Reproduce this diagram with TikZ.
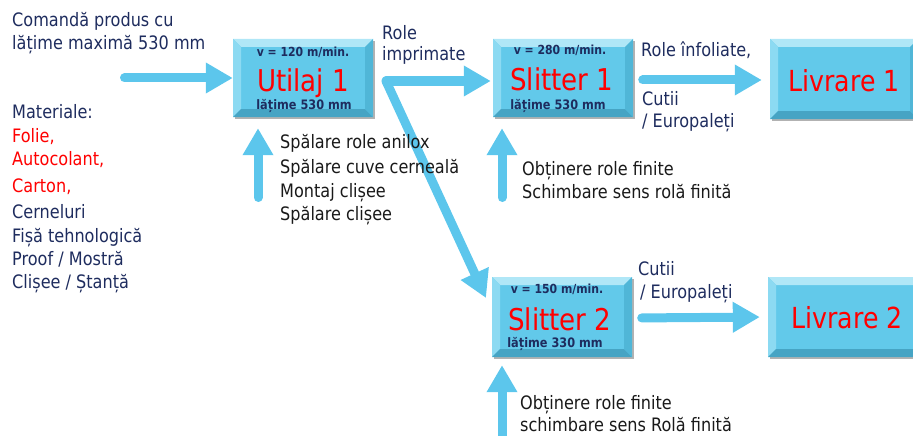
\documentclass[tikz,border=0pt]{standalone}
\usepackage{fontspec}
\setmainfont[FakeStretch=0.87]{DejaVu Sans}
\usetikzlibrary{arrows.meta,shadows,calc}
\definecolor{navy}{RGB}{30,44,94}
\definecolor{ink}{RGB}{25,25,25}
\definecolor{arr}{RGB}{92,198,236}
\definecolor{boxc}{RGB}{98,201,234}
\definecolor{bevT}{RGB}{176,231,247}
\definecolor{bevL}{RGB}{140,218,242}
\definecolor{bevB}{RGB}{70,164,196}
\definecolor{bevR}{RGB}{80,182,215}
\begin{document}
\begin{tikzpicture}[x=1pt,y=-1pt,
  box/.style={fill=boxc, inner sep=0pt,
    drop shadow={shadow xshift=2pt, shadow yshift=-2pt, opacity=.3, fill=black},
    path picture={
      \coordinate (nw) at (path picture bounding box.north west);
      \coordinate (ne) at (path picture bounding box.north east);
      \coordinate (sw) at (path picture bounding box.south west);
      \coordinate (se) at (path picture bounding box.south east);
      \fill[bevT] (nw) -- (ne) -- ($(ne)+(-8pt,-8pt)$) -- ($(nw)+(8pt,-8pt)$) -- cycle;
      \fill[bevL] (nw) -- ($(nw)+(8pt,-8pt)$) -- ($(sw)+(8pt,8pt)$) -- (sw) -- cycle;
      \fill[bevB] (sw) -- ($(sw)+(8pt,8pt)$) -- ($(se)+(-8pt,8pt)$) -- (se) -- cycle;
      \fill[bevR] (se) -- ($(se)+(-8pt,8pt)$) -- ($(ne)+(-8pt,-8pt)$) -- (ne) -- cycle;
    }},
  flow/.style={draw=arr, line width=9pt, line cap=round, line join=round,
    -{Triangle[length=27pt,width=29pt]}},
  txt/.style={inner sep=0pt, anchor=base west, font=\fontsize{18.5}{22}\selectfont},
  nv/.style={txt, text=navy},
  rd/.style={txt, text=red},
  bk/.style={txt, text=ink},
  small/.style={inner sep=0pt, anchor=base, text=navy, font=\fontsize{12.5}{15}\selectfont\bfseries},
  smallw/.style={small, font=\fontsize{13}{15}\selectfont\bfseries},
  big/.style={inner sep=0pt, anchor=base, text=red, font=\fontsize{30}{34}\selectfont}
]
\useasboundingbox (0,0) rectangle (913,436);

% boxes
\node[box, minimum width=140pt, minimum height=78pt] (u1) at (303,78) {};
\node[box, minimum width=140pt, minimum height=78pt] (s1) at (563,78) {};
\node[box, minimum width=140pt, minimum height=80pt] (s2) at (562,317) {};
\node[box, minimum width=148pt, minimum height=80pt] (l1) at (844,79) {};
\node[box, minimum width=156pt, minimum height=80pt] (l2) at (846,317) {};

% box texts
\node[small] (u1v) at (303,57) {v = 120 m/min.};
\node[big] (u1t) at (303,92) {Utilaj 1};
\node[smallw] (u1w) at (304,110) {lățime 530 mm};
\node[small] (s1v) at (560,55) {v = 280 m/min.};
\node[big] (s1t) at (562,91) {Slitter 1};
\node[smallw] (s1w) at (558,110) {lățime 530 mm};
\node[small] (s2v) at (557,293) {v = 150 m/min.};
\node[big] (s2t) at (560,330) {Slitter 2};
\node[smallw] (s2w) at (555,347) {lățime 330 mm};
\node[big, font=\fontsize{29}{34}\selectfont] (l1t) at (844,92) {Livrare 1};
\node[big, font=\fontsize{29}{34}\selectfont] (l2t) at (847,328) {Livrare 2};

% arrows
\coordinate (in) at (124.5,78);
\draw[flow] (in) -- (u1.west);
\coordinate (sp) at (386,81);
\draw[flow, shorten >=2pt] (sp) -- (sp -| s1.west);
\coordinate (d2) at (486,298);
\draw[flow] (sp) -- (d2);
\draw[flow, shorten <=9.5pt, shorten >=8pt] ($(s1.east)+(0,2)$) -- ($(l1.west)+(0,1)$);
\draw[flow, shorten <=9.5pt, shorten >=8pt] ($(s2.east)+(0,1)$) -- (l2.west);
\coordinate (b1) at (258,197.5);
\draw[flow, shorten >=11pt] (b1) -- (b1 |- u1.south);
\coordinate (b2) at (502,197.5);
\draw[flow, shorten >=11pt] (b2) -- (b2 |- s1.south);
\coordinate (b3) at (502,445);
\draw[flow, shorten >=8pt] (b3) -- (b3 |- s2.south);

% left texts
\node[nv] (c1) at (12,27) {Comandă produs cu};
\node[nv] (c2) at (12,50) {lățime maximă 530 mm};
\node[nv] (m0) at (12,118) {Materiale:};
\node[rd] (m1) at (12,142) {Folie,};
\node[rd] (m2) at (12,165) {Autocolant,};
\node[rd] (m3) at (12,192) {Carton,};
\node[nv] (m4) at (12,218) {Cerneluri};
\node[nv] (m5) at (12,242) {Fișă tehnologică};
\node[nv] (m6) at (12,265) {Proof / Mostră};
\node[nv] (m7) at (12,288) {Clișee / Ștanță};

% flow labels
\node[nv] (r1) at (382,40) {Role};
\node[nv] (r2) at (382,61) {imprimate};
\node[nv] (f1) at (641,57) {Role înfoliate,};
\node[nv] (f2) at (642,105) {Cutii};
\node[nv] (f3) at (642,127) {/ Europaleți};
\node[nv] (g1) at (638,275) {Cutii};
\node[nv] (g2) at (640,298) {/ Europaleți};

% operation texts
\node[bk] (o1) at (280,148) {Spălare role anilox};
\node[bk] (o2) at (280,173) {Spălare cuve cerneală};
\node[bk] (o3) at (280,197) {Montaj clișee};
\node[bk] (o4) at (280,220) {Spălare clișee};
\node[bk] (p1) at (522,175) {Obținere role finite};
\node[bk] (p2) at (522,198) {Schimbare sens rolă finită};
\node[bk] (q1) at (520,409) {Obținere role finite};
\node[bk] (q2) at (520,431) {schimbare sens Rolă finită};
\end{tikzpicture}
\end{document}
